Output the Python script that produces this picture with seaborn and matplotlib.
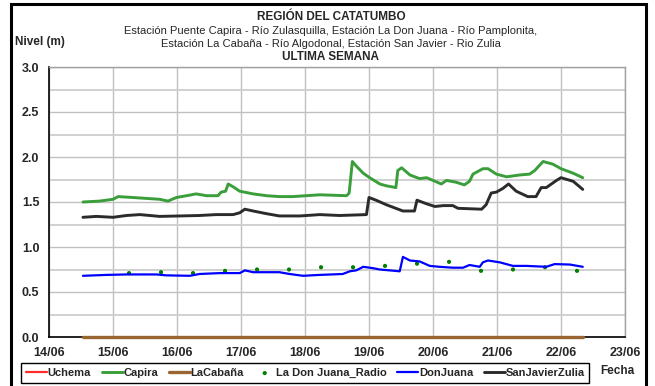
import matplotlib
matplotlib.use("Agg")
import matplotlib.pyplot as plt
from matplotlib.patches import Rectangle
from matplotlib.ticker import MultipleLocator, FixedLocator, FormatStrFormatter
import numpy as np
import seaborn as sns

# Time axis in days after 14/06 00:00
day_labels = ["14/06", "15/06", "16/06", "17/06", "18/06",
              "19/06", "20/06", "21/06", "22/06", "23/06"]

capira_t = [0.53, 0.79, 1.00, 1.08, 1.31, 1.52, 1.73, 1.86, 1.99, 2.15, 2.30, 2.46,
            2.64, 2.69, 2.76, 2.80, 2.875, 2.98, 3.19, 3.40, 3.60, 3.81, 4.02, 4.23,
            4.65, 4.69, 4.74, 4.80, 4.91, 5.01, 5.17, 5.27, 5.42, 5.45, 5.51, 5.64,
            5.79, 5.90, 6.00, 6.13, 6.21, 6.36, 6.49, 6.57, 6.625, 6.78, 6.86, 6.99,
            7.15, 7.35, 7.51, 7.59, 7.72, 7.875, 8.00, 8.19, 8.34]
capira_v = [1.50, 1.51, 1.53, 1.56, 1.55, 1.54, 1.53, 1.51, 1.55, 1.57, 1.59, 1.57,
            1.57, 1.61, 1.62, 1.70, 1.67, 1.62, 1.59, 1.57, 1.56, 1.56, 1.57, 1.58,
            1.57, 1.60, 1.95, 1.90, 1.82, 1.77, 1.70, 1.68, 1.66, 1.85, 1.88, 1.80,
            1.76, 1.77, 1.74, 1.70, 1.74, 1.72, 1.69, 1.73, 1.81, 1.87, 1.87, 1.81,
            1.78, 1.80, 1.81, 1.85, 1.95, 1.92, 1.87, 1.82, 1.77]

sanjavier_t = [0.53, 0.74, 1.00, 1.21, 1.42, 1.73, 2.04, 2.35, 2.61, 2.875, 2.98, 3.06,
               3.19, 3.40, 3.60, 3.92, 4.23, 4.54, 4.96, 5.00, 5.11, 5.27, 5.53, 5.71,
               5.75, 5.90, 6.03, 6.16, 6.31, 6.39, 6.76, 6.83, 6.91, 6.99, 7.09, 7.18,
               7.30, 7.48, 7.61, 7.69, 7.77, 7.93, 8.00, 8.19, 8.34]
sanjavier_v = [1.33, 1.34, 1.33, 1.35, 1.36, 1.34, 1.345, 1.35, 1.36, 1.36, 1.38, 1.42,
               1.40, 1.37, 1.345, 1.345, 1.36, 1.35, 1.36, 1.55, 1.52, 1.47, 1.40, 1.40,
               1.52, 1.48, 1.45, 1.46, 1.46, 1.43, 1.42, 1.47, 1.60, 1.61, 1.65, 1.70,
               1.62, 1.56, 1.56, 1.66, 1.66, 1.74, 1.77, 1.73, 1.64]

donjuana_t = [0.53, 0.90, 1.21, 1.68, 1.83, 2.20, 2.35, 2.67, 2.98, 3.06, 3.19, 3.60,
              3.76, 3.97, 4.23, 4.59, 4.70, 4.80, 4.91, 5.06, 5.17, 5.48, 5.53, 5.64,
              5.79, 5.95, 6.10, 6.31, 6.47, 6.57, 6.73, 6.78, 6.86, 7.04, 7.25, 7.46,
              7.77, 7.90, 8.14, 8.34]
donjuana_v = [0.68, 0.69, 0.695, 0.695, 0.685, 0.68, 0.70, 0.71, 0.71, 0.74, 0.72, 0.72,
              0.70, 0.68, 0.69, 0.70, 0.73, 0.74, 0.78, 0.765, 0.75, 0.73, 0.89, 0.85,
              0.84, 0.79, 0.78, 0.77, 0.77, 0.80, 0.78, 0.83, 0.85, 0.83, 0.79, 0.79,
              0.78, 0.81, 0.805, 0.78]

radio_t = [1.25, 1.75, 2.25, 2.75, 3.25, 3.75, 4.25, 4.75, 5.25, 5.75, 6.25, 6.75,
           7.25, 7.75, 8.25]
radio_v = [0.71, 0.72, 0.71, 0.735, 0.75, 0.75, 0.775, 0.775, 0.79, 0.815, 0.835, 0.735,
           0.75, 0.775, 0.735]

lacabana_t = [0.53, 8.34]
lacabana_v = [0.0, 0.0]

uchema_t = [0.53, 8.34]
uchema_v = [np.nan, np.nan]

sns.set_theme(style="white")
plt.rcParams["font.family"] = ["Liberation Sans", "DejaVu Sans"]

fig = plt.figure(figsize=(6.55, 3.86), dpi=100)
ax = fig.add_axes([49 / 655, 1 - 337 / 386, 576 / 655, 270 / 386])

# Plot area grid: lines every 0.25 m and every day
ax.set_xlim(0, 9)
ax.set_ylim(0, 3.0)
ax.yaxis.set_major_locator(MultipleLocator(0.5))
ax.yaxis.set_minor_locator(MultipleLocator(0.25))
ax.xaxis.set_major_locator(FixedLocator(range(len(day_labels))))
ax.set_xticklabels(day_labels)
ax.grid(which="major", axis="both", color="#c0c0c0", linewidth=1.0)
ax.grid(which="minor", axis="y", color="#d0d0d0", linewidth=1.4)
ax.set_axisbelow(True)

series = [
    ("Uchema", uchema_t, uchema_v, "#ff2a2a", 1.6),
    ("Capira", capira_t, capira_v, "#3a9e3a", 2.1),
    ("LaCabaña", lacabana_t, lacabana_v, "#996633", 2.4),
]
for name, t, v, c, lw in series:
    sns.lineplot(x=t, y=v, ax=ax, color=c, linewidth=lw, label=name)

sns.scatterplot(x=radio_t, y=radio_v, ax=ax, color="#008000", s=9,
                edgecolor="none", label="La Don Juana_Radio")

sns.lineplot(x=donjuana_t, y=donjuana_v, ax=ax, color="#0000ff",
             linewidth=1.6, label="DonJuana")
sns.lineplot(x=sanjavier_t, y=sanjavier_v, ax=ax, color="#2b2b2b",
             linewidth=2.1, label="SanJavierZulia")

# Keep series on top of the axis lines so the zero-level line shows
for ln in ax.get_lines():
    ln.set_clip_on(False)
    ln.set_zorder(5)

for side in ["top", "right"]:
    ax.spines[side].set_color("#a0a0a0")
    ax.spines[side].set_linewidth(1.0)
for side in ["left", "bottom"]:
    ax.spines[side].set_color("black")
    ax.spines[side].set_linewidth(1.2)

ax.tick_params(axis="both", which="major", length=4, width=1, color="black",
               direction="out", labelsize=9, pad=3)
ax.tick_params(axis="both", which="minor", length=0)
for lbl in ax.get_xticklabels() + ax.get_yticklabels():
    lbl.set_fontweight("bold")
ax.yaxis.set_major_formatter(FormatStrFormatter("%.1f"))
ax.set_xlabel("")
ax.set_ylabel("")

leg = ax.legend(loc="upper left", bbox_to_anchor=(21 / 655, 1 - 363 / 386),
                bbox_transform=fig.transFigure, ncol=6, frameon=True,
                fancybox=False, edgecolor="black", framealpha=1,
                prop={"weight": "bold", "size": 8}, handlelength=1.9,
                handletextpad=0.05, columnspacing=0.95, borderpad=0.45,
                borderaxespad=0, markerscale=1.0)
leg.get_frame().set_linewidth(1.0)

fig.text(600 / 655, 1 - 371 / 386, "Fecha", fontsize=8.5, fontweight="bold",
         ha="left", va="center")
fig.text(15 / 655, 1 - 42 / 386, "Nivel (m)", fontsize=8.5, fontweight="bold",
         ha="left", va="center")

cx = 331 / 655
fig.text(cx, 1 - 17 / 386, "REGIÓN DEL CATATUMBO", fontsize=8.5,
         fontweight="bold", ha="center", va="center")
fig.text(cx, 1 - 31 / 386,
         "Estación Puente Capira - Río Zulasquilla, Estación La Don Juana - Río Pamplonita,",
         fontsize=8, ha="center", va="center")
fig.text(cx, 1 - 44 / 386,
         "Estación La Cabaña - Río Algodonal, Estación San Javier - Rio Zulia",
         fontsize=8, ha="center", va="center")
fig.text(cx, 1 - 57 / 386, "ULTIMA SEMANA", fontsize=8.5, fontweight="bold",
         ha="center", va="center")

# Chart frame
fig.patches.append(Rectangle((11 / 655, -0.05), 635 / 655, 1.05 - 4 / 386,
                             transform=fig.transFigure, fill=False,
                             edgecolor="black", linewidth=2.2, clip_on=False))

fig.savefig("out.png", dpi=100, facecolor="white")
